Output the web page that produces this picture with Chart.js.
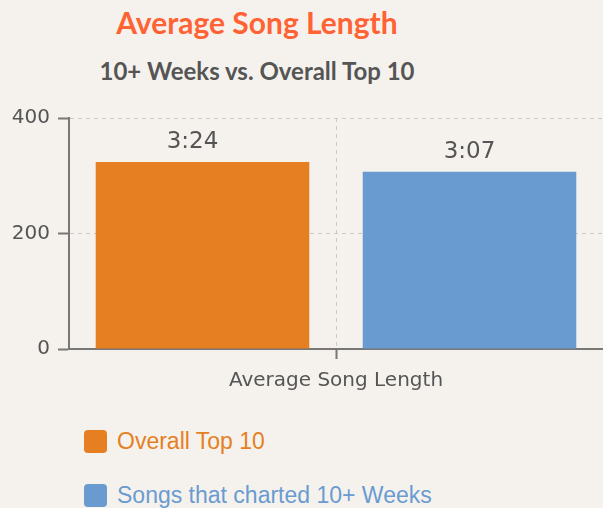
<!DOCTYPE html>
<html>
<head>
<meta charset="utf-8">
<title>Average Song Length</title>
<script src="https://cdn.jsdelivr.net/npm/chart.js@4"></script>
<style>
    html, body {
        margin: 0;
        padding: 0;
        background: #f5f2ee;
        width: 603px;
        height: 508px;
        overflow: hidden;
    }
    .wrap {
        position: relative;
        width: 603px;
        height: 508px;
    }
    #chart {
        position: absolute;
        left: 0;
        top: 0;
    }
    .title, .subtitle {
        position: absolute;
        left: 0;
        width: 514px;
        text-align: center;
        font-family: Lato, sans-serif;
        font-weight: bold;
        line-height: 1;
        margin: 0;
    }
    .title {
        top: 7px;
        font-size: 30px;
        color: #ff6333;
    }
    .subtitle {
        top: 59px;
        font-size: 24px;
        color: #555555;
    }
    #legend {
        position: absolute;
        left: 84px;
        top: 429px;
        font-family: "Liberation Sans", Arial, sans-serif;
        font-size: 23px;
    }
    .legend-item {
        display: flex;
        align-items: center;
        height: 25px;
        margin-bottom: 29px;
    }
    .legend-box {
        width: 23px;
        height: 23px;
        border-radius: 4px;
        margin-right: 10px;
    }
</style>
</head>
<body>
<div class="wrap">
    <div class="title">Average Song Length</div>
    <div class="subtitle">10+ Weeks vs. Overall Top 10</div>
    <canvas id="chart" width="603" height="411"></canvas>
    <div id="legend"></div>
</div>

<script>
// data
const categories = ['Average Song Length'];
const seriesNames = ['Overall Top 10', 'Songs that charted 10+ Weeks'];
const seriesValues = [[324], [307]];
const valueLabels = [['3:24'], ['3:07']];
const seriesColors = ['#e67f22', '#6a9bd0'];
const yTicks = [0, 200, 400];

const axisGray = '#777777';
const gridGray = '#cccac8';
const textGray = '#555555';
const fontFamily = '"DejaVu Sans", sans-serif';
// the first value label sits a little left of its bar in the original
const labelShiftX = [-10, 0];

// labels above each bar
const barLabels = {
    id: 'barLabels',
    afterDatasetsDraw(chart) {
        const ctx = chart.ctx;
        ctx.save();
        ctx.font = '23px ' + fontFamily;
        ctx.fillStyle = textGray;
        ctx.textAlign = 'center';
        ctx.textBaseline = 'middle';
        chart.data.datasets.forEach((ds, i) => {
            chart.getDatasetMeta(i).data.forEach((bar, j) => {
                ctx.fillText(valueLabels[i][j], bar.x + labelShiftX[i], bar.y - 20);
            });
        });
        ctx.restore();
    }
};

const ctx = document.getElementById('chart').getContext('2d');
const chart = new Chart(ctx, {
    type: 'bar',
    data: {
        labels: categories,
        datasets: seriesNames.map((name, i) => ({
            label: name,
            data: seriesValues[i],
            backgroundColor: seriesColors[i],
            barPercentage: 0.8,
            categoryPercentage: 1.0
        }))
    },
    options: {
        responsive: false,
        animation: false,
        layout: {
            padding: { top: 118, right: 0, bottom: 8, left: 0 }
        },
        plugins: {
            legend: { display: false },
            title: { display: false },
            tooltip: { enabled: false }
        },
        scales: {
            x: {
                grid: {
                    offset: false,
                    color: gridGray,
                    lineWidth: 1,
                    tickColor: axisGray,
                    tickWidth: 2,
                    tickLength: 10,
                    tickBorderDash: []
                },
                border: { color: axisGray, width: 2, dash: [4, 4] },
                ticks: {
                    color: textGray,
                    padding: 10,
                    font: { family: fontFamily, size: 20 }
                }
            },
            y: {
                min: 0,
                max: 400,
                afterBuildTicks(scale) {
                    scale.ticks = yTicks.map(v => ({ value: v }));
                },
                afterFit(scale) {
                    scale.width = 69;
                },
                grid: {
                    color: gridGray,
                    lineWidth: 1,
                    tickColor: axisGray,
                    tickWidth: 2,
                    tickLength: 11,
                    tickBorderDash: []
                },
                border: { color: axisGray, width: 2, dash: [4, 4] },
                ticks: {
                    color: textGray,
                    padding: 8,
                    font: { family: fontFamily, size: 20 }
                }
            }
        }
    },
    plugins: [barLabels]
});

// html legend built from the chart datasets
const legendEl = document.getElementById('legend');
chart.data.datasets.forEach(ds => {
    const item = document.createElement('div');
    item.className = 'legend-item';
    item.style.color = ds.backgroundColor;
    const box = document.createElement('span');
    box.className = 'legend-box';
    box.style.background = ds.backgroundColor;
    const text = document.createElement('span');
    text.textContent = ds.label;
    item.appendChild(box);
    item.appendChild(text);
    legendEl.appendChild(item);
});
</script>
</body>
</html>
